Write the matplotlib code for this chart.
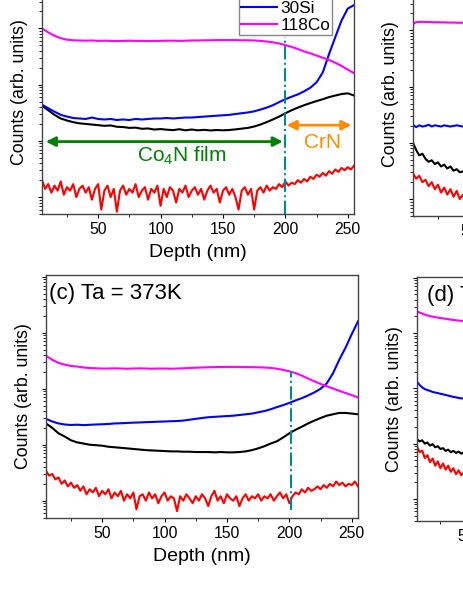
import numpy as np
import matplotlib
matplotlib.use("Agg")
import matplotlib.pyplot as plt
from matplotlib.lines import Line2D
from matplotlib.ticker import LogLocator, NullFormatter, MultipleLocator

plt.rcParams['font.family'] = ['Liberation Sans', 'DejaVu Sans']
plt.rcParams['mathtext.fontset'] = 'custom'
plt.rcParams['mathtext.rm'] = 'Liberation Sans'
plt.rcParams['mathtext.default'] = 'regular'

# species / colours (legend order)
species = ['14N', '52Cr', '30Si', '118Co']
colors = ['black', 'red', 'blue', 'magenta']

# sampling grids (nm)
depth5 = np.arange(5, 256, 5)          # smooth signals
depth25 = np.arange(5, 255.1, 2.5)     # noisy signals
depth_b = np.arange(5, 50.1, 2.5)
depth_d = np.arange(3, 48.1, 2.5)

# ---- panel (a)
a_black = [42, 35, 29, 25, 23, 21.5, 20.5, 20, 19.5, 19,
           18.5, 18.8, 17.8, 17.6, 17, 17.2, 16.4, 16.6, 15.9, 16.2,
           15.8, 15.5, 16.1, 15.4, 15.9, 15.4, 15.7, 15.3, 15.6, 15.4,
           15.6, 16, 16.5, 17, 18, 19.5, 21.5, 24, 27, 31,
           35, 39, 43, 47, 51, 55, 60, 64, 68, 70,
           64]
a_red = [2.0, 1.4, 1.7, 1.2, 1.6, 1.3, 1.9, 1.1, 1.5, 1.3,
         1.7, 1.0, 1.4, 1.6, 1.2, 1.5, 0.9, 1.4, 1.7, 0.6,
         1.3, 1.6, 1.0, 1.4, 0.55, 1.3, 1.6, 1.1, 1.4, 1.2,
         1.7, 1.0, 1.3, 1.5, 0.9, 1.4, 1.2, 1.6, 0.7, 1.4,
         1.0, 1.5, 1.3, 0.8, 1.4, 1.2, 1.6, 1.0, 1.3, 1.5,
         1.1, 1.4, 0.9, 1.3, 1.6, 1.2, 1.4, 0.8, 1.3, 1.5,
         1.1, 1.4, 1.0, 0.6, 1.3, 1.5, 1.1, 1.4, 0.6, 1.3,
         1.5, 1.2, 1.6, 1.3, 1.5, 1.4, 1.7, 1.5, 1.9, 1.6,
         1.8, 1.7, 2.0, 1.8, 2.1, 1.9, 2.3, 2.1, 2.5, 2.3,
         2.7, 2.4, 2.9, 2.6, 3.1, 2.8, 3.3, 3.0, 3.4, 3.1,
         3.6]
a_blue = [44, 38, 33, 29, 27, 25.5, 25, 24.5, 26, 24.5,
          24, 24.5, 23.5, 24, 23.5, 24.5, 24, 24.5, 25, 25,
          25.5, 25, 25.5, 26, 26, 26.5, 27, 27.5, 28, 28.5,
          29, 30, 31, 32, 33.5, 36, 39, 43, 49, 55,
          61, 67, 76, 88, 110, 165, 350, 700, 1380, 2250,
          2600]
a_magenta = [1000, 850, 740, 670, 630, 615, 610, 605, 610, 600,
             605, 600, 595, 600, 605, 600, 600, 595, 600, 600,
             605, 605, 600, 605, 610, 610, 615, 615, 620, 620,
             620, 620, 615, 615, 610, 600, 585, 565, 540, 505,
             470, 430, 390, 360, 330, 300, 275, 245, 215, 185,
             160]

# ---- panel (b) (only the first tens of nm are in view)
b_black = [10, 7.5, 6.0, 6.4, 5.2, 4.6, 4.9, 4.2, 4.5, 3.8,
           4.1, 3.5, 3.8, 3.2, 3.4, 3.0, 3.1, 2.9, 3.0]
b_red = [2.9, 2.3, 2.6, 2.0, 2.2, 1.7, 2.0, 1.5, 1.8, 1.3,
         1.6, 1.2, 1.5, 1.1, 1.4, 1.0, 1.2, 0.8, 1.1]
b_blue = [21, 19, 20.5, 19.5, 20, 21, 19.5, 20.5, 20, 19.5,
          20.5, 20, 19.5, 20, 20.5, 20, 19.5, 20, 20]
b_magenta = [1300, 1400, 1420, 1420, 1410, 1410, 1400, 1400, 1400, 1390,
             1390, 1380, 1380, 1380, 1370, 1370, 1370, 1360, 1360]

# ---- panel (c)
c_black = [24, 20, 16, 14, 12, 11, 10.5, 10, 9.8, 9.6,
           9.2, 9.0, 8.8, 8.6, 8.4, 8.2, 8.0, 7.9, 7.8, 7.7,
           7.6, 7.6, 7.5, 7.5, 7.4, 7.4, 7.4, 7.3, 7.4, 7.3,
           7.3, 7.4, 7.6, 8.0, 8.6, 9.4, 10.5, 11.5, 13.5, 16,
           18.5, 21, 24, 27, 30, 33, 35, 37, 37, 36,
           35]
c_red = [3.4, 2.8, 3.0, 2.4, 2.6, 2.0, 2.3, 1.8, 2.1, 1.7,
         1.9, 1.5, 1.8, 1.3, 1.6, 1.4, 1.7, 1.2, 1.5, 1.3,
         1.6, 1.1, 1.4, 1.2, 1.5, 1.0, 1.3, 1.1, 1.4, 0.7,
         1.2, 1.3, 1.0, 1.4, 1.1, 1.3, 0.9, 1.2, 1.4, 1.0,
         1.2, 1.1, 0.65, 1.2, 1.0, 1.3, 1.1, 0.9, 1.2, 1.0,
         1.3, 1.1, 0.8, 1.2, 1.5, 1.0, 1.2, 0.9, 1.3, 1.1,
         1.0, 1.2, 0.8, 1.1, 1.3, 1.0, 1.2, 1.1, 1.3, 1.0,
         1.2, 1.1, 1.3, 1.0, 1.2, 1.4, 1.1, 1.3, 0.9, 1.2,
         1.4, 1.3, 1.6, 1.4, 1.7, 1.5, 1.6, 1.8, 1.6, 1.9,
         1.7, 2.0, 1.8, 2.2, 1.9, 2.1, 1.8, 2.0, 1.9, 2.2,
         1.8]
c_blue = [29, 26, 24, 23, 22.5, 22.8, 22.4, 22.7, 23, 23.2,
          23.5, 24, 24.2, 24.5, 24.8, 25, 25.3, 25.5, 25.8, 26,
          26.3, 26.5, 27, 28, 29, 30, 31, 31.5, 32, 32.5,
          33, 34, 35, 36, 38, 40, 43, 47, 51, 56,
          62, 68, 76, 86, 100, 125, 190, 330, 540, 950,
          1600]
c_magenta = [390, 330, 290, 270, 255, 250, 240, 235, 232, 230,
             230, 232, 230, 228, 230, 232, 230, 228, 230, 230,
             228, 230, 232, 235, 238, 240, 242, 244, 245, 246,
             246, 245, 244, 243, 242, 240, 236, 228, 218, 205,
             190, 172, 152, 136, 122, 111, 101, 92, 84, 77,
             70]

# ---- panel (d) (only the first tens of nm are in view)
d_black = [12, 11, 11.5, 10, 10.5, 9.2, 9.8, 8.6, 9.0, 8.0,
           8.3, 7.4, 7.8, 7.0, 7.4, 6.8, 7.2, 6.6, 7.0]
d_red = [9.0, 7.0, 7.5, 5.5, 6.2, 4.6, 5.4, 4.0, 4.8, 3.6,
         4.4, 3.4, 4.0, 3.1, 3.6, 2.8, 3.3, 2.7, 3.0]
d_blue = [132, 115, 104, 97, 93, 90, 86, 84, 82, 80,
          78, 76, 74, 72, 70, 69, 67, 66, 65]
d_magenta = [2450, 2350, 2250, 2150, 2080, 2020, 1980, 1940, 1900, 1870,
             1840, 1810, 1780, 1750, 1720, 1700, 1680, 1660, 1640]

# interface markers (depth, bottom, top)
dash_a = (200, 0.5, 700)
dash_c = (201, 0.68, 205)

W, H = 463, 599


def box(l, t, r, b):
    return [l / W, 1 - b / H, (r - l) / W, (b - t) / H]


def style(ax, xlim, ylim):
    ax.set_yscale('log')
    ax.set_xlim(*xlim)
    ax.set_ylim(*ylim)
    ax.xaxis.set_major_locator(MultipleLocator(50))
    ax.xaxis.set_minor_locator(MultipleLocator(25))
    ax.yaxis.set_major_locator(LogLocator(base=10, numticks=20))
    ax.yaxis.set_minor_locator(LogLocator(base=10, subs=np.arange(2, 10), numticks=20))
    ax.yaxis.set_major_formatter(NullFormatter())
    ax.yaxis.set_minor_formatter(NullFormatter())
    ax.tick_params(which='major', direction='out', length=3, width=0.8, labelsize=11.3, pad=3)
    ax.tick_params(which='minor', direction='out', length=2, width=0.6)
    for s in ax.spines.values():
        s.set_color('#444444')
        s.set_linewidth(1.0)
    ax.set_xlabel('Depth (nm)', fontsize=14, labelpad=5)
    ax.set_ylabel('Counts (arb. units)', fontsize=12.8, labelpad=4)


def draw(ax, xs, series):
    for x, y, c in zip(xs, series, colors):
        ax.plot(x, y, color=c, lw=1.5)


fig = plt.figure(figsize=(4.63, 5.99), dpi=100)

ax_a = fig.add_axes(box(42, -29, 354, 214))
ax_b = fig.add_axes(box(413, -27, 725, 216))
ax_c = fig.add_axes(box(46, 275, 358, 518))
ax_d = fig.add_axes(box(417, 277, 729, 521))

style(ax_a, (5, 255), (0.5, 10500))
style(ax_b, (5, 255), (0.5, 10500))
style(ax_c, (5, 255), (0.49, 10800))
style(ax_d, (3, 303), (0.4, 10300))

draw(ax_a, [depth5, depth25, depth5, depth5], [a_black, a_red, a_blue, a_magenta])
draw(ax_b, [depth_b] * 4, [b_black, b_red, b_blue, b_magenta])
draw(ax_c, [depth5, depth25, depth5, depth5], [c_black, c_red, c_blue, c_magenta])
draw(ax_d, [depth_d] * 4, [d_black, d_red, d_blue, d_magenta])

ax_a.vlines(dash_a[0], dash_a[1], dash_a[2], colors='#008B8B', linestyles='-.', lw=1.5)
ax_c.vlines(dash_c[0], dash_c[1], dash_c[2], colors='#008B8B', linestyles='-.', lw=1.5)

# layer annotations in (a)
ax_a.annotate('', xy=(198, 9.7), xytext=(8, 9.7),
              arrowprops=dict(arrowstyle='<|-|>', color='#008000', lw=2,
                              mutation_scale=14, shrinkA=0, shrinkB=0))
ax_a.text(117, 4.3, 'Co$_4$N film', color='#008000', fontsize=15, ha='center', va='baseline')
ax_a.annotate('', xy=(253, 19), xytext=(201, 19),
              arrowprops=dict(arrowstyle='<|-|>', color='#FF8C00', lw=2,
                              mutation_scale=14, shrinkA=0, shrinkB=0))
ax_a.text(230, 7.4, 'CrN', color='#FF8C00', fontsize=15, ha='center', va='baseline')

handles = [Line2D([], [], color=c, lw=1.5) for c in colors]
ax_a.legend(handles, species, loc='lower right', bbox_to_anchor=(0.929, 0.737),
            fontsize=12.4, frameon=True, fancybox=False, edgecolor='#888888',
            framealpha=1, borderpad=0.1, labelspacing=0.15, handlelength=2.1,
            handletextpad=0.2, borderaxespad=0)

ax_c.text(0.01, 0.967, '(c) Ta = 373K', transform=ax_c.transAxes, fontsize=16, va='top')
ax_d.text(0.032, 0.967, '(d) Ta = 473K', transform=ax_d.transAxes, fontsize=16, va='top')

fig.savefig('out.png', dpi=100)
